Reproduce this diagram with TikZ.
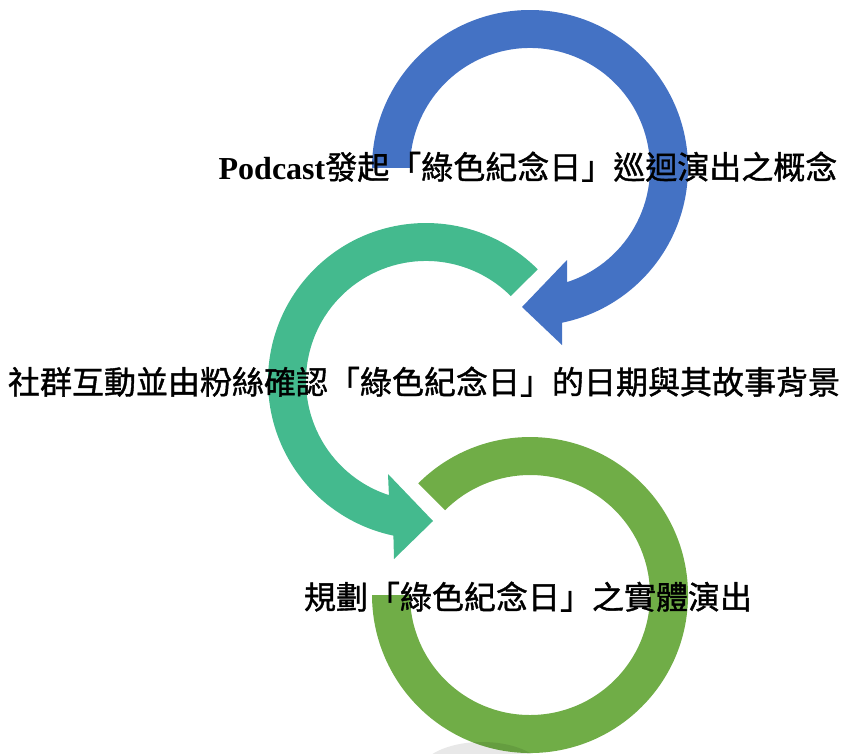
\documentclass[tikz,border=0pt]{standalone}
\usepackage{fontspec}
\setmainfont{Liberation Serif}
\newfontfamily\cjk{Noto Sans CJK TC}[FakeBold=1.2]
\definecolor{ringblue}{HTML}{4472C4}
\definecolor{ringteal}{HTML}{44BA8E}
\definecolor{ringgreen}{HTML}{70AD47}
\begin{document}
\begin{tikzpicture}[x=1pt,y=1pt,
  lbl/.style={anchor=base,inner sep=0pt,font=\fontsize{32}{38}\selectfont\cjk,text=black}]
\useasboundingbox (0,0) rectangle (843,-753);
% blue ring with arrowhead
\fill[ringblue] (372,-168) arc[start angle=180,end angle=-78.3,radius=158]
  -- (562,-345) -- (522,-307) -- (567,-260) -- (567.1,-282.1)
  arc[start angle=-72,end angle=180,radius=120] -- cycle;
% teal ring with arrowhead
\fill[ringteal] (537.7,-269.3) arc[start angle=45,end angle=258.1,radius=158]
  -- (394,-559) -- (433,-521) -- (388,-474) -- (388.9,-495.1)
  arc[start angle=252,end angle=45,radius=120] -- cycle;
% green ring
\fill[ringgreen] (418.3,-483.3) arc[start angle=135,end angle=-180,radius=158]
  -- (410,-595) arc[start angle=-180,end angle=135,radius=120] -- cycle;
% soft shadow
\begin{scope}
\clip (0,0) rectangle (843,-753);
\fill[black,opacity=0.09] (482,-772) ellipse[x radius=62,y radius=30];
\end{scope}
% labels
\node[lbl] (t1) at (528,-179) {{\rmfamily\bfseries Podcast}發起「綠色紀念日」巡迴演出之概念};
\node[lbl] (t2) at (424,-394) {社群互動並由粉絲確認「綠色紀念日」的日期與其故事背景};
\node[lbl] (t3) at (528,-609) {規劃「綠色紀念日」之實體演出};
\end{tikzpicture}
\end{document}
